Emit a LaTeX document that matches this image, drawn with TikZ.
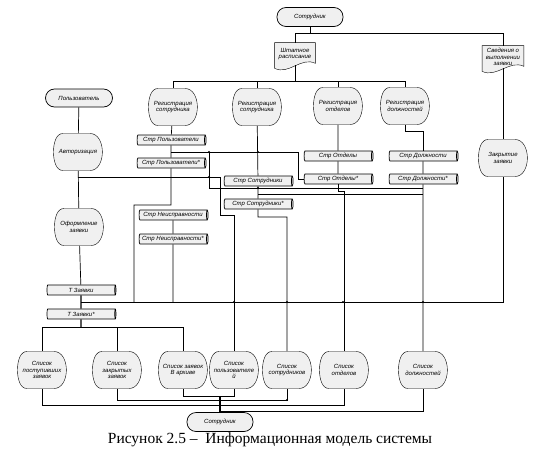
\documentclass[tikz,border=0pt]{standalone}
\usepackage{fontspec}
\setmainfont{Liberation Serif}
\setsansfont{Liberation Sans}
\usetikzlibrary{shapes.geometric,backgrounds}

\begin{document}
\begin{tikzpicture}[x=1pt,y=1pt,line width=0.7pt,
	lbl/.style={font=\sffamily\itshape\fontsize{6}{6.5}\selectfont,align=center,inner sep=0pt},
	term/.style={lbl,draw,fill=gray!12,rounded corners=9pt,minimum width=66pt,minimum height=19pt},
	store/.style={lbl,cylinder,draw,cylinder uses custom fill,cylinder body fill=gray!12,cylinder end fill=gray!12,aspect=0.3,minimum width=10pt,minimum height=69pt},
	disp/.style={lbl,minimum width=49pt,minimum height=37pt},
	docu/.style={lbl,minimum width=40pt,minimum height=22pt},
	shp/.style={draw,fill=gray!12},
	heavy/.style={line width=1.2pt}]
	\useasboundingbox (0,0) rectangle (548,-460);
	% levels of the buses
	\coordinate (topbus) at (0,-33);
	\coordinate (regbus) at (0,-81);
	\coordinate (y152) at (0,-152);
	\coordinate (y177) at (0,-177);
	\coordinate (y188) at (0,-188);
	\coordinate (y194) at (0,-194);
	\coordinate (y205) at (0,-205);
	\coordinate (y217) at (0,-217);
	\coordinate (zaybus) at (0,-302);
	\coordinate (listbus) at (0,-327);
	\coordinate (y396) at (0,-396);
	\coordinate (y400) at (0,-400);
	\coordinate (y405) at (0,-405);
	\coordinate (y411) at (0,-411);
	\coordinate (jA) at (209,-152);
	\coordinate (jB) at (134,-302);
	\coordinate (jC) at (220,-215);
	\coordinate (jD) at (298,-152);

	\node[term] (sotrT) at (310,-17) {Сотрудник};
	\node[term,minimum width=67pt,minimum height=18pt] (polz) at (79,-98) {Пользователь};
	\node[term] (sotrB) at (220,-422) {Сотрудник};
	\node[docu] (shtat) at (295,-54) {Штатное\\расписание};
	\node[docu,minimum width=41pt] (sved) at (503,-57) {Сведения о\\выполнении\\заявки};

	\node[disp] (reg1) at (173,-107) {Регистрация\\сотрудника};
	\node[disp] (reg2) at (257,-107) {Регистрация\\сотрудника};
	\node[disp] (regOtd) at (338,-106) {Регистрация\\отделов};
	\node[disp] (regDol) at (405,-106) {Регистрация\\должностей};
	\node[disp] (avt) at (78,-152) {Авторизация};
	\node[disp] (oform) at (79,-227) {Оформление\\заявки};
	\node[disp] (zakr) at (503,-158) {Закрытие\\заявки};
	\node[disp] (spost) at (42,-370) {Список\\поступивших\\заявок};
	\node[disp] (szakr) at (117,-370) {Список\\закрытых\\заявок};
	\node[disp] (sarh) at (183,-370) {Список заявок\\В архиве};
	\node[disp] (spolz) at (234,-370) {Список\\пользователе\\й};
	\node[disp] (ssotr) at (287,-370) {Список\\сотрудников};
	\node[disp] (sotd) at (344,-370) {Список\\отделов};
	\node[disp] (sdol) at (423,-370) {Список\\должностей};

	\node[store] (tPolz) at (171,-140) {Стр Пользователи};
	\node[store] (tPolzS) at (171,-163) {Стр Пользователи*};
	\node[store] (tNeis) at (173,-215) {Стр Неисправности};
	\node[store] (tNeisS) at (173,-239) {Стр Неисправности*};
	\node[store] (tSotr) at (258,-181) {Стр Сотрудники};
	\node[store] (tSotrS) at (258,-204) {Стр Сотрудники*};
	\node[store] (tOtd) at (338,-156) {Стр Отделы};
	\node[store] (tOtdS) at (338,-179) {Стр Отделы*};
	\node[store] (tDol) at (423,-156) {Стр Должности};
	\node[store] (tDolS) at (423,-179) {Стр Должности*};
	\node[store] (tZay) at (81,-290) {Т Заявки};
	\node[store] (tZayS) at (81,-314) {Т Заявки*};

	\begin{scope}[on background layer]
	\foreach \n in {reg1,reg2,regOtd,regDol,avt,oform,zakr,spost,szakr,sarh,spolz,ssotr,sotd,sdol}
		\draw[shp,shift={(\n.center)}] (-15,18.5) -- (12,18.5) .. controls (28.5,18.5) and (28.5,-18.5) .. (12,-18.5) -- (-15,-18.5) .. controls (-22,-18.5) and (-24.5,-9) .. (-24.5,0) .. controls (-24.5,9) and (-22,18.5) .. cycle;
	\foreach \n in {shtat,sved}
		\draw[shp] (\n.north west) -- (\n.north east) -- ([yshift=2pt]\n.south east) .. controls +(-14,7) and +(14,-7) .. ([yshift=-3pt]\n.south west) -- cycle;
	\end{scope}

	% upper part
	\draw (sotrT) -- (sotrT |- topbus);
	\draw (shtat) -- (shtat |- topbus) -| (sved);
	\draw (shtat.south) -- (shtat.south |- regbus);
	\draw (reg1) -- (reg1 |- regbus) -| (regDol);
	\draw (reg2) -- (reg2 |- regbus);
	\draw (regOtd) -- (regOtd |- regbus);
	\draw (sved) -- (zakr);

	% user side
	\draw (polz) -- (avt);
	\draw (avt) -- (oform);
	\draw (avt |- y177) -| (jC) -| (spolz);
	\draw (oform) -- (tZay);
	\draw[heavy] (tZay) -- (tZayS);
	\draw (tZay |- zaybus) -| (zakr);
	\draw[heavy] (tZayS) -- (tZayS |- listbus);
	\draw (spost) -- (spost |- listbus) -| (sarh);
	\draw (szakr) -- (szakr |- listbus);

	% tables
	\draw (reg1) -- (tPolz);
	\draw (tPolz) -- (tPolzS);
	\draw (tPolz |- y152) -- (jD) |- (tOtdS);
	\draw (jA) |- (tDolS |- y188);
	\draw (tPolzS) -- (tPolzS |- y205) -| (jB);
	\draw (tNeis) -- (tNeisS);
	\draw (tNeisS) -- (tNeisS |- zaybus);
	\draw (reg2) -- (tSotr);
	\draw (tSotr) -- (tSotrS);
	\draw (tSotr |- y194) -- (tDolS |- y194);
	\draw (tSotrS) -- (tSotrS |- y217) -| (ssotr);
	\draw (regOtd) -- (tOtd);
	\draw (tOtd) -- (tOtdS);
	\draw (tOtdS.south) -- ++(0,-7) -| (sotd);
	\draw (regDol.south) -- ++(0,-6) -| (tDol);
	\draw (tDol) -- (tDolS);
	\draw (tDolS) -- (sdol);

	% lists to the user
	\draw (sarh) |- (sotrB |- y396);
	\draw (spolz) |- (sotrB |- y396);
	\draw (szakr) |- (ssotr |- y400) -- (ssotr);
	\draw (spost) |- (sotd |- y405) -- (sotd);
	\draw (sotrB |- y411) -| (sdol);
	\draw[heavy] (sotrB |- y396) -- (sotrB);

	\fill (jA) circle (1.2) (258,-152) circle (1.2) (209,-177) circle (1.2) (258,-188) circle (1.2)
		(234,-302) circle (1.2) (287,-302) circle (1.2) (343,-302) circle (1.2) (423,-302) circle (1.2) (287,-400) circle (1.2);

	\node[font=\fontsize{15.5}{17}\selectfont] (cap) at (270,-440) {Рисунок 2.5 –\ \ Информационная модель системы};
\end{tikzpicture}
\end{document}
